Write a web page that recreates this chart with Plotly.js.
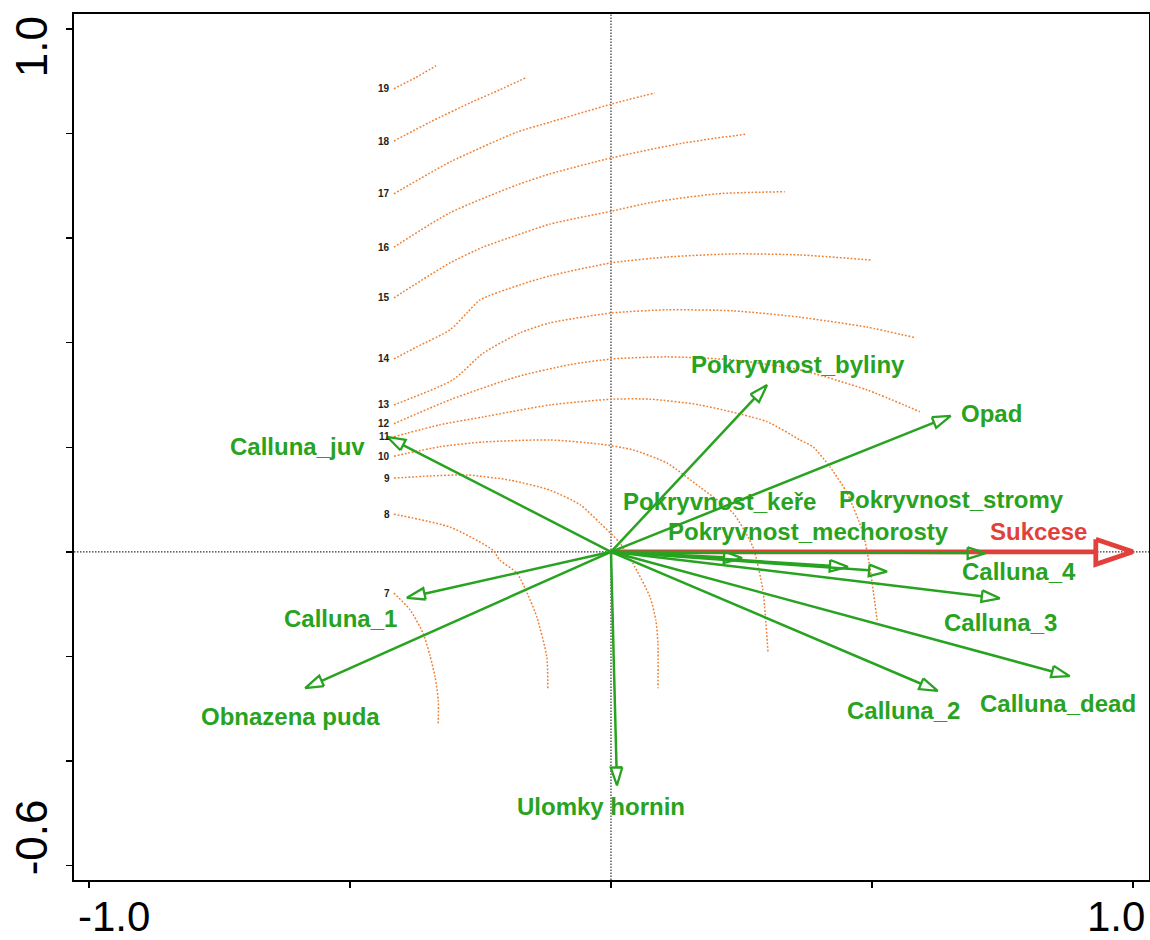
<!DOCTYPE html>
<html>
<head>
<meta charset="utf-8">
<script src="https://cdn.plot.ly/plotly-3.0.1.min.js"></script>
<style>html,body{margin:0;padding:0;background:#fff}</style>
</head>
<body>
<div id="chart" style="width:1150px;height:940px"></div>
<script>
// ---- Explanatory variables (arrow tips, ordination axes 1 and 2) ----
const envNames = ['Pokryvnost_byliny', 'Opad', 'Calluna_juv', 'Pokryvnost_keře',
  'Pokryvnost_mechorosty', 'Pokryvnost_stromy', 'Calluna_4', 'Calluna_3',
  'Calluna_dead', 'Calluna_2', 'Ulomky hornin', 'Obnazena puda', 'Calluna_1'];
const envX = [0.299, 0.651, -0.429, 0.251, 0.454, 0.529, 0.718, 0.745, 0.879, 0.626, 0.0115, -0.586, -0.391];
const envY = [0.319, 0.260, 0.220, -0.012, -0.029, -0.038, -0.0025, -0.089, -0.238, -0.266, -0.447, -0.261, -0.088];

// ---- Supplementary variable ----
const suppName = 'Sukcese';
const suppX = 1.0;
const suppY = 0.0;

// ---- Isolines of the fitted surface (level, x, y) ----
const isoLevels = [7, 8, 9, 10, 11, 12, 13, 14, 15, 16, 17, 18, 19];
const iso7x = [-0.416, -0.385, -0.360, -0.347, -0.337, -0.331, -0.331];
const iso7y = [-0.079, -0.111, -0.156, -0.198, -0.240, -0.284, -0.328];
const iso8x = [-0.416, -0.308, -0.226, -0.213, -0.180, -0.155, -0.142, -0.123, -0.121];
const iso8y = [0.072, 0.047, 0.003, -0.016, -0.041, -0.092, -0.125, -0.201, -0.264];
const iso9x = [-0.416, -0.347, -0.276, -0.193, -0.117, -0.059, -0.021, 0.017, 0.042, 0.075, 0.086, 0.090, 0.090];
const iso9y = [0.141, 0.145, 0.147, 0.137, 0.118, 0.090, 0.055, 0.017, -0.022, -0.087, -0.131, -0.175, -0.261];
const iso10x = [-0.416, -0.328, -0.245, -0.117, -0.021, 0.042, 0.107, 0.170, 0.234, 0.272, 0.291, 0.301];
const iso10y = [0.183, 0.201, 0.210, 0.214, 0.206, 0.195, 0.170, 0.124, 0.074, 0.009, -0.073, -0.194];
const iso11x = [-0.416, -0.328, -0.245, -0.117, 0.002, 0.075, 0.170, 0.299, 0.362, 0.387, 0.420, 0.452, 0.483, 0.496, 0.510];
const iso11y = [0.220, 0.243, 0.258, 0.281, 0.292, 0.292, 0.281, 0.249, 0.214, 0.201, 0.162, 0.113, 0.036, -0.029, -0.131];
const iso12x = [-0.416, -0.308, -0.180, -0.079, 0.002, 0.107, 0.234, 0.362, 0.490, 0.592];
const iso12y = [0.245, 0.291, 0.335, 0.358, 0.369, 0.373, 0.367, 0.348, 0.310, 0.268];
const iso13x = [-0.416, -0.303, -0.245, -0.174, -0.117, 0.002, 0.107, 0.234, 0.362, 0.490, 0.582];
const iso13y = [0.281, 0.329, 0.380, 0.419, 0.438, 0.457, 0.463, 0.461, 0.449, 0.430, 0.410];
const iso14x = [-0.416, -0.372, -0.308, -0.276, -0.251, -0.174, -0.117, 0.002, 0.107, 0.234, 0.362, 0.500];
const iso14y = [0.369, 0.392, 0.425, 0.457, 0.482, 0.511, 0.528, 0.553, 0.564, 0.570, 0.568, 0.558];
const iso15x = [-0.416, -0.308, -0.245, -0.180, -0.117, 0.002, 0.075, 0.203, 0.333];
const iso15y = [0.486, 0.553, 0.583, 0.606, 0.627, 0.652, 0.668, 0.685, 0.689];
const iso16x = [-0.416, -0.308, -0.180, -0.117, 0.002, 0.138, 0.257];
const iso16y = [0.583, 0.649, 0.702, 0.723, 0.754, 0.782, 0.799];
const iso17x = [-0.416, -0.308, -0.180, -0.117, 0.002, 0.084];
const iso17y = [0.685, 0.746, 0.803, 0.822, 0.857, 0.878];
const iso18x = [-0.416, -0.347, -0.270, -0.213, -0.163];
const iso18y = [0.786, 0.822, 0.859, 0.884, 0.907];
const iso19x = [-0.416, -0.375, -0.335];
const iso19y = [0.886, 0.907, 0.930];

// ---- Axis ticks ----
const xTickVals = [-1, -0.5, 0, 0.5, 1];
const yTickVals = [1, 0.8, 0.6, 0.4, 0.2, 0, -0.2, -0.4, -0.6];
const xTickText = ['-1.0', '1.0'];
const xTickAt = [-1, 1];
const yTickText = ['1.0', '-0.6'];
const yTickAt = [1, -0.6];

// ---- Style ----
const GREEN = '#28a321';
const RED = '#e2403b';
const ORANGE = '#f07f30';
const FONT = 'Liberation Sans, Arial, Helvetica, sans-serif';
const W = 1150, H = 940;
const M = {l: 74, r: 1, t: 14, b: 60};
const xRange = [-1.029, 1.031];
const yRange = [-0.628, 1.029];
// label offsets in pixels (dx right, dy down) from each arrow tip
const envLabelShift = [[31, -21], [41, -2], [-90, 10], [-22, -57], [-39, -35], [64, -72],
  [33, 18], [1, 24], [-12, 27], [-34, 20], [-16, 21], [-15, 28], [-66, 21]];
const suppLabelShift = [-94, -20];

// pixels per data unit along each axis
const kx = (W - M.l - M.r) / (xRange[1] - xRange[0]);
const ky = (H - M.t - M.b) / (yRange[1] - yRange[0]);

// open triangular arrow head; returns outline and the base point where the shaft stops
function arrowHead(tx, ty, len, half) {
  const px = tx * kx, py = ty * ky;
  const m = Math.hypot(px, py);
  const ux = px / m, uy = py / m;
  const bx = px - len * ux, by = py - len * uy;
  const c1x = bx - half * uy, c1y = by + half * ux;
  const c2x = bx + half * uy, c2y = by - half * ux;
  return {
    x: [c1x / kx, tx, c2x / kx, c1x / kx, null],
    y: [c1y / ky, ty, c2y / ky, c1y / ky, null],
    bx: bx / kx, by: by / ky
  };
}

const traces = [];

// isolines
const isoX = [iso7x, iso8x, iso9x, iso10x, iso11x, iso12x, iso13x, iso14x, iso15x, iso16x, iso17x, iso18x, iso19x];
const isoY = [iso7y, iso8y, iso9y, iso10y, iso11y, iso12y, iso13y, iso14y, iso15y, iso16y, iso17y, iso18y, iso19y];
isoLevels.forEach((lev, i) => {
  traces.push({
    x: isoX[i], y: isoY[i], type: 'scatter', mode: 'lines',
    line: {color: ORANGE, width: 1.5, dash: '1.8px,1.8px', shape: 'spline', smoothing: 0.6},
    hoverinfo: 'skip'
  });
});

// supplementary arrow (drawn first so green arrows lie over it)
const sh = arrowHead(suppX, suppY, 37, 12.5);
traces.push({x: [0, sh.bx], y: [0, sh.by], type: 'scatter', mode: 'lines',
  line: {color: RED, width: 4.8}, hoverinfo: 'skip'});
traces.push({x: sh.x, y: sh.y, type: 'scatter', mode: 'lines',
  line: {color: RED, width: 4.8}, hoverinfo: 'skip'});

// explanatory variable arrows
const shaftX = [], shaftY = [], headX = [], headY = [];
envNames.forEach((n, i) => {
  const h = arrowHead(envX[i], envY[i], 18, 5.8);
  shaftX.push(0, h.bx, null);
  shaftY.push(0, h.by, null);
  headX.push(...h.x);
  headY.push(...h.y);
});
traces.push({x: shaftX, y: shaftY, type: 'scatter', mode: 'lines',
  line: {color: GREEN, width: 2.5}, hoverinfo: 'skip'});
traces.push({x: headX, y: headY, type: 'scatter', mode: 'lines',
  line: {color: GREEN, width: 2.3}, hoverinfo: 'skip'});

const annotations = [];
envNames.forEach((n, i) => {
  annotations.push({
    x: envX[i], y: envY[i], xref: 'x', yref: 'y', text: '<b>' + n + '</b>',
    showarrow: false, xanchor: 'center', yanchor: 'middle',
    xshift: envLabelShift[i][0], yshift: -envLabelShift[i][1],
    font: {family: FONT, size: 24, color: GREEN}
  });
});
annotations.push({
  x: suppX, y: suppY, xref: 'x', yref: 'y', text: '<b>' + suppName + '</b>',
  showarrow: false, xanchor: 'center', yanchor: 'middle',
  xshift: suppLabelShift[0], yshift: -suppLabelShift[1],
  font: {family: FONT, size: 24, color: RED}
});
// isoline level labels at the start of each line
isoLevels.forEach((lev, i) => {
  annotations.push({
    x: isoX[i][0], y: isoY[i][0], xref: 'x', yref: 'y', text: '<b>' + lev + '</b>',
    showarrow: false, xanchor: 'right', yanchor: 'middle', xshift: -2,
    font: {family: FONT, size: 10, color: '#222'}
  });
});
// axis end labels
xTickAt.forEach((v, i) => {
  annotations.push({
    x: v, y: 0, xref: 'x', yref: 'paper', text: xTickText[i], showarrow: false,
    xanchor: 'center', yanchor: 'middle', xshift: v < 0 ? 25 : -17, yshift: -36,
    font: {family: FONT, size: 42, color: '#000'}
  });
});
yTickAt.forEach((v, i) => {
  annotations.push({
    x: 0, y: v, xref: 'paper', yref: 'y', text: yTickText[i], showarrow: false,
    textangle: -90, xanchor: 'center', yanchor: 'middle', xshift: -43,
    yshift: v > 0 ? -18 : 28,
    font: {family: FONT, size: 44, color: '#000'}
  });
});

const layout = {
  width: W, height: H,
  margin: M,
  paper_bgcolor: '#fff', plot_bgcolor: '#fff',
  showlegend: false,
  xaxis: {
    range: xRange, showgrid: false, zeroline: false,
    showline: true, mirror: true, linecolor: '#000', linewidth: 2,
    ticks: 'outside', ticklen: 6, tickwidth: 1.5, tickcolor: '#000',
    tickvals: xTickVals, showticklabels: false, fixedrange: true
  },
  yaxis: {
    range: yRange, showgrid: false, zeroline: false,
    showline: true, mirror: true, linecolor: '#000', linewidth: 2,
    ticks: 'outside', ticklen: 6, tickwidth: 1.5, tickcolor: '#000',
    tickvals: yTickVals, showticklabels: false, fixedrange: true
  },
  shapes: [
    {type: 'line', xref: 'x', yref: 'paper', x0: 0, x1: 0, y0: 0, y1: 1,
      line: {color: '#333', width: 1.2, dash: '1.5px,1.5px'}, layer: 'below'},
    {type: 'line', xref: 'paper', yref: 'y', x0: 0, x1: 1, y0: 0, y1: 0,
      line: {color: '#333', width: 1.2, dash: '1.5px,1.5px'}, layer: 'below'}
  ],
  annotations: annotations
};

Plotly.newPlot('chart', traces, layout, {staticPlot: true, displayModeBar: false});
</script>
</body>
</html>
